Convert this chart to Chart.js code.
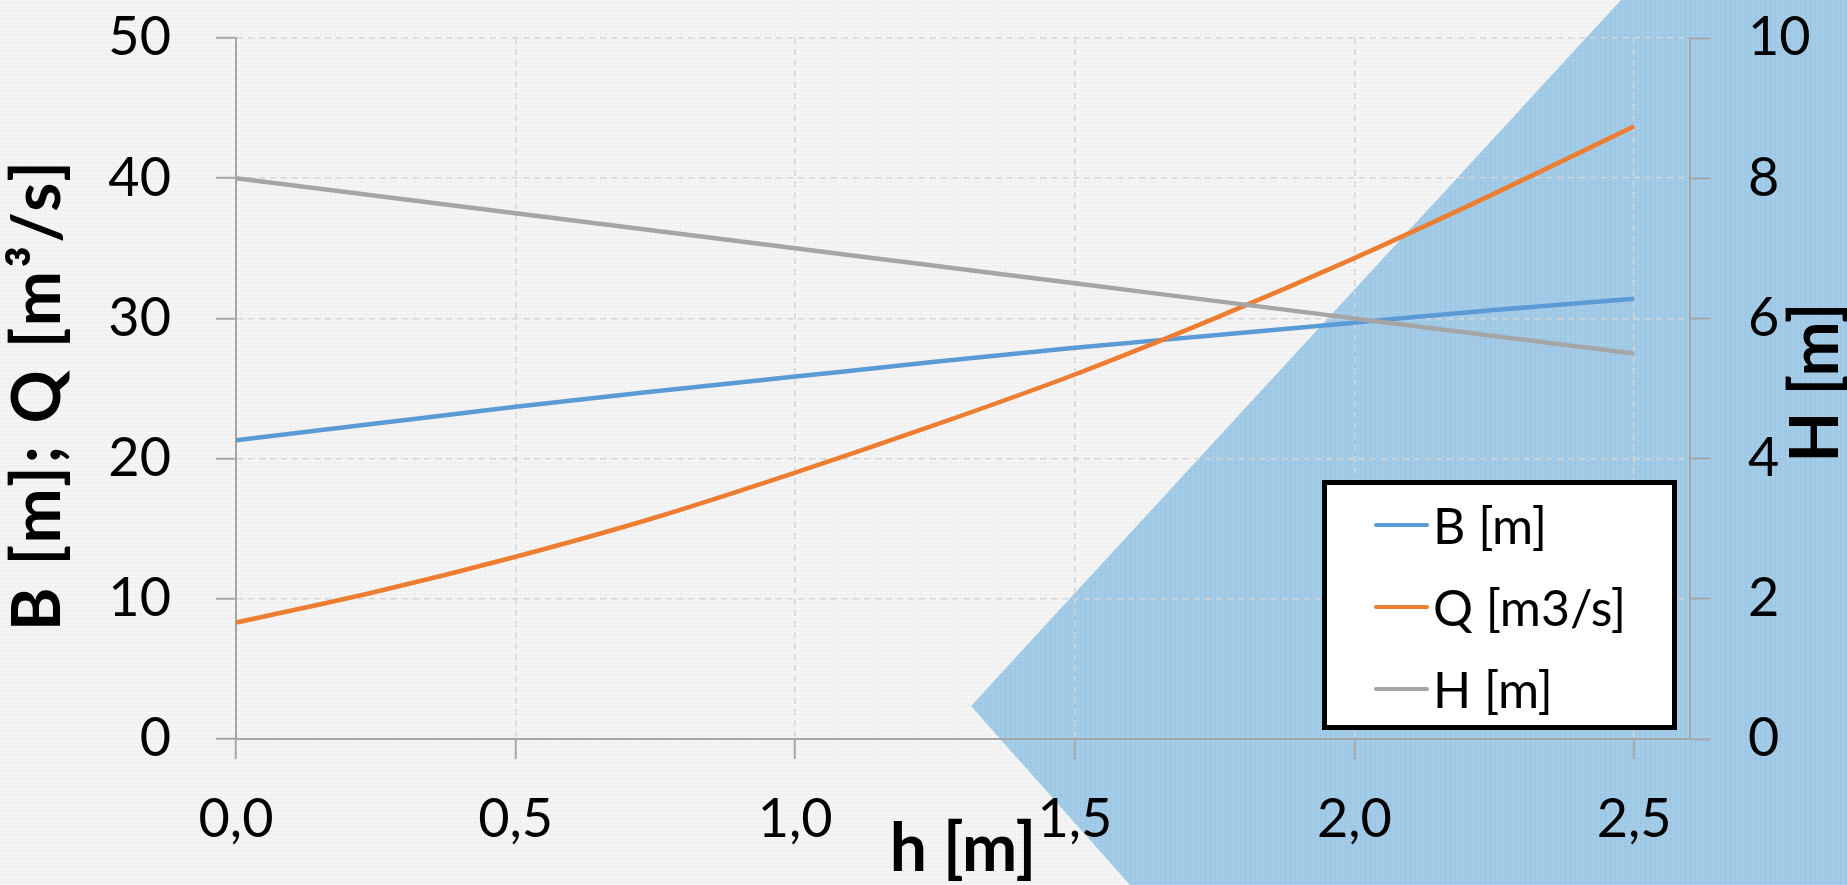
<!DOCTYPE html>
<html>
<head>
<meta charset="utf-8">
<title>B, Q, H vs h</title>
<script src="https://cdn.jsdelivr.net/npm/chart.js@4.4.1/dist/chart.umd.min.js"></script>
<style>
    html, body { margin: 0; padding: 0; }
    body {
        width: 1847px; height: 885px; overflow: hidden; position: relative;
        background-color: #f2f2f2;
        background-image:
            repeating-linear-gradient(0deg, rgba(255,255,255,0.35) 0 1px, transparent 1px 4px),
            repeating-linear-gradient(90deg, rgba(0,0,0,0.015) 0 1px, transparent 1px 5px);
        font-family: Lato, sans-serif;
    }
    /* slide decoration behind the chart */
    #deco {
        position: absolute; left: 0; top: 0; width: 1847px; height: 885px;
        background-color: #a0cae7;
        background-image:
            repeating-linear-gradient(0deg, rgba(255,255,255,0.08) 0 1px, transparent 1px 4px),
            repeating-linear-gradient(90deg, rgba(0,0,0,0.03) 0 1px, transparent 1px 5px);
        clip-path: polygon(1621px 0, 1847px 0, 1847px 885px, 1130px 885px, 971px 706px);
    }
    #chart { position: absolute; left: 0; top: 0; }
    #legend {
        position: absolute; left: 1322px; top: 480px;
        width: 345px; height: 240px;
        background: #fff; border: 5px solid #000;
    }
    #legend .row {
        position: absolute; left: 0; height: 60px;
        display: flex; align-items: center;
        font-size: 50px; color: #000; white-space: nowrap;
    }
    #legend .swatch { width: 55px; height: 4px; border-radius: 2px; margin-left: 47px; margin-right: 4px; }
</style>
</head>
<body>
<div id="deco"></div>
<canvas id="chart" width="1847" height="885"></canvas>
<div id="legend"></div>
<script>
    'use strict';

    // h [m] - x values
    var hValues = [0, 0.25, 0.5, 0.75, 1.0, 1.25, 1.5, 1.75, 2.0, 2.25, 2.5];
    // B [m] - left axis
    var bValues = [21.3, 22.5, 23.7, 24.8, 25.85, 26.9, 27.9, 28.8, 29.7, 30.6, 31.4];
    // Q [m3/s] - left axis
    var qValues = [8.3, 10.5, 13.0, 15.8, 19.0, 22.4, 26.0, 30.0, 34.3, 38.9, 43.7];
    // H [m] - right axis
    var headValues = [8.0, 7.75, 7.5, 7.25, 7.0, 6.75, 6.5, 6.25, 6.0, 5.75, 5.5];

    var seriesNames = ['B [m]', 'Q [m3/s]', 'H [m]'];
    var seriesColors = ['#5b9bd5', '#ed7d31', '#a5a5a5'];

    var xTitle = 'h [m]';
    var leftTitle = 'B [m]; Q [m\u00b3/s]';
    var rightTitle = 'H [m]';

    function points(ys) {
        return hValues.map(function(h, i) { return { x: h, y: ys[i] }; });
    }

    var tickFont = { family: 'Lato', size: 54 };
    var titleFont = { family: 'Lato', size: 66, weight: 'bold' };
    var gridOpts = { color: '#d6d6d6', lineWidth: 1.5, tickLength: 20, tickColor: '#a6a6a6', tickWidth: 2 };
    var borderOpts = { display: true, color: '#a6a6a6', width: 2, dash: [6, 5] };

    // keep the plot area where it is: no extra room for edge labels
    function fixVertical(width) {
        return function(s) {
            s.width = width;
            s.paddingTop = 0;
            s.paddingBottom = 0;
        };
    }

    function drawVerticalTitle(ctx, text, x, y, spacing) {
        ctx.save();
        ctx.translate(x, y);
        ctx.rotate(-Math.PI / 2);
        ctx.font = 'bold 66px Lato';
        if ('letterSpacing' in ctx) ctx.letterSpacing = spacing + 'px';
        ctx.fillStyle = '#000';
        ctx.textAlign = 'center';
        ctx.textBaseline = 'middle';
        ctx.fillText(text, 0, 0);
        ctx.restore();
    }

    // both vertical titles read bottom-to-top
    var axisTitlePlugin = {
        id: 'axisTitles',
        afterDraw: function(chart) {
            var l = chart.scales.y;
            var r = chart.scales.y2;
            drawVerticalTitle(chart.ctx, leftTitle, l.left + 39, (l.top + l.bottom) / 2 + 6, 3);
            drawVerticalTitle(chart.ctx, rightTitle, r.right - 30, (r.top + r.bottom) / 2 - 6, 0);
        }
    };

    var htmlLegend = {
        id: 'htmlLegend',
        afterUpdate: function(chart) {
            var box = document.getElementById('legend');
            box.innerHTML = '';
            chart.data.datasets.forEach(function(ds, i) {
                var row = document.createElement('div');
                row.className = 'row';
                row.style.top = (10 + i * 82) + 'px';
                var sw = document.createElement('span');
                sw.className = 'swatch';
                sw.style.background = ds.borderColor;
                var txt = document.createElement('span');
                txt.textContent = ds.label;
                row.appendChild(sw);
                row.appendChild(txt);
                box.appendChild(row);
            });
        }
    };

    var ctx = document.getElementById('chart').getContext('2d');
    var chart = new Chart(ctx, {
        type: 'line',
        data: {
            datasets: [
                { label: seriesNames[0], data: points(bValues), borderColor: seriesColors[0], yAxisID: 'y', order: 2 },
                { label: seriesNames[1], data: points(qValues), borderColor: seriesColors[1], yAxisID: 'y', order: 1 },
                { label: seriesNames[2], data: points(headValues), borderColor: seriesColors[2], yAxisID: 'y2', order: 0 }
            ]
        },
        options: {
            responsive: false,
            animation: false,
            layout: { padding: { top: 38, left: 0, right: 0, bottom: 0 } },
            elements: {
                point: { radius: 0 },
                line: { borderWidth: 4.5, cubicInterpolationMode: 'monotone', fill: false }
            },
            plugins: {
                legend: { display: false },
                tooltip: { enabled: false }
            },
            scales: {
                x: {
                    type: 'linear',
                    position: 'bottom',
                    min: 0,
                    max: 2.6,
                    afterFit: function(s) { s.height = 146; s.paddingLeft = 0; s.paddingRight = 0; },
                    ticks: {
                        stepSize: 0.5,
                        includeBounds: false,
                        autoSkip: false,
                        maxRotation: 0,
                        padding: 28,
                        color: '#000',
                        font: tickFont,
                        callback: function(v) { return v.toFixed(1).replace('.', ','); }
                    },
                    grid: gridOpts,
                    border: borderOpts,
                    title: { display: true, text: xTitle, color: '#000', font: titleFont, padding: { top: 0, bottom: -4 } }
                },
                y: {
                    position: 'left',
                    min: 0,
                    max: 50,
                    afterFit: fixVertical(236),
                    ticks: { stepSize: 10, padding: 45, color: '#000', font: tickFont },
                    grid: gridOpts,
                    border: borderOpts
                },
                y2: {
                    position: 'right',
                    min: 0,
                    max: 10,
                    afterFit: fixVertical(157),
                    ticks: { stepSize: 2, padding: 38, color: '#000', font: tickFont },
                    grid: { drawOnChartArea: false, tickLength: 20, tickColor: '#a6a6a6', tickWidth: 2 },
                    border: { display: true, color: '#a6a6a6', width: 2 }
                }
            }
        },
        plugins: [axisTitlePlugin, htmlLegend]
    });
</script>
</body>
</html>
